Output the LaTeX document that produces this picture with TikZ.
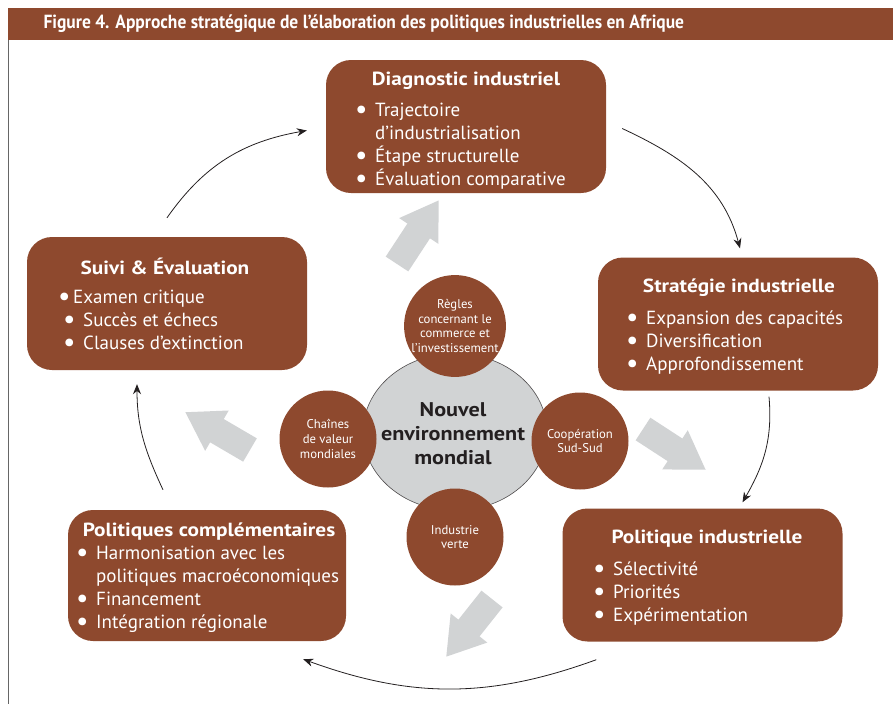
\documentclass[tikz,border=0pt]{standalone}
\usepackage{fontspec}
\usepackage{graphicx}
\setmainfont{PT Sans}
\newfontfamily\titrefont[FakeStretch=0.92]{PT Sans}
\newfontfamily\grasfont[FakeStretch=1.12]{PT Sans}
\usetikzlibrary{positioning,shapes.geometric,arrows.meta}
\definecolor{brique}{RGB}{142,73,46}
\definecolor{grisclair}{RGB}{209,211,212}
\definecolor{grisfonce}{RGB}{35,31,32}
\newcommand{\rond}{\raisebox{-2pt}{\scalebox{1.45}{\textbullet}}}
\newcommand{\puce}{\makebox[20pt][l]{\rond}}
\newcommand{\retrait}{\hspace*{20pt}}
\newcommand{\premier}{\rule{0pt}{18pt}}
\tikzset{
  etape/.style={fill=brique, rounded corners=25pt, minimum width=280pt, minimum height=133pt},
  etapetitre/.style={text=white, font=\grasfont\fontsize{19}{22}\selectfont\bfseries},
  etapeliste/.style={text=white, align=left, anchor=north west, inner sep=0pt,
    font=\fontsize{19}{23.2}\selectfont},
  facteur/.style={circle, fill=brique, minimum size=97pt, inner sep=0pt, text=white,
    align=center, font=\fontsize{12.7}{14.6}\selectfont},
  cycle/.style={-{Stealth[length=10pt,width=8pt]}, line width=0.8pt, grisfonce},
  poussee/.style={line width=27pt, grisclair, -{Triangle[length=37pt,width=44pt]}},
}
\begin{document}
\begin{tikzpicture}[x=1pt,y=1pt]
        \useasboundingbox (0,0) rectangle (893,-704);
        % bandeau du titre
        \fill[brique] (8,-8) rectangle (893,-40);
        \node[anchor=west, text=white, font=\titrefont\fontsize{19}{22}\selectfont\bfseries] (titre) at (40,-24)
                {Figure 4. Approche stratégique de l’élaboration des politiques industrielles en Afrique};
        \draw[black!60, line width=0.8pt] (8,-40) -- (8,-704);

        % les cinq etapes
        \node[etape] (diag) at (466,-126.5) {};
        \node[etapetitre] (diagT) at (466,-81) {Diagnostic industriel};
        \node[etapeliste] (diagL) at (355,-98) {\premier\puce Trajectoire\\\retrait d’industrialisation\\\puce Étape structurelle\\\puce Évaluation comparative};

        \node[etape] (strat) at (738,-324) {};
        \node[etapetitre] (stratT) at (739,-288) {Stratégie industrielle};
        \node[etapeliste] (stratL) at (626,-306) {\premier\puce Expansion des capacités\\\puce Diversification\\\puce Approfondissement};

        \node[etape] (polind) at (702.5,-575) {};
        \node[etapetitre] (polindT) at (707,-539) {Politique industrielle};
        \node[etapeliste] (polindL) at (593,-557) {\premier\puce Sélectivité\\\puce Priorités\\\puce Expérimentation};

        \node[etape, minimum width=278pt, minimum height=131pt] (compl) at (207,-575.5) {};
        \node[etapetitre] (complT) at (209,-532) {Politiques complémentaires};
        \node[etapeliste] (complL) at (76,-541) {\premier\puce Harmonisation avec les\\\retrait politiques macroéconomiques\\\puce Financement\\\puce Intégration régionale};

        \node[etape] (suivi) at (167,-303.5) {};
        \node[etapetitre] (suiviT) at (165,-266) {Suivi \& Évaluation};
        \node[etapeliste] (suiviL) at (63,-285) {\premier\hspace*{-5pt}\makebox[15pt][l]{\rond}Examen critique\\\puce Succès et échecs\\\puce Clauses d’extinction};

        % environnement mondial au centre
        \node[ellipse, draw=grisfonce!80, line width=0.6pt, fill=grisclair, minimum width=184pt,
                minimum height=157pt] (monde) at (455,-432) {};
        \node[align=center, text=grisfonce, font=\grasfont\fontsize{19.8}{24}\selectfont\bfseries]
                (mondeT) at (453,-434) {Nouvel\\environnement\\mondial};
        \node[facteur] (regles) at (455,-326) {Règles\\concernant le\\commerce et\\l’investissement};
        \node[facteur] (chaines) at (328,-439) {Chaînes\\de valeur\\mondiales};
        \node[facteur] (coop) at (580,-441) {Coopération\\Sud-Sud};
        \node[facteur] (indus) at (455,-537) {Industrie\\verte};

        % fleches grises
        \coordinate (p1) at (397,-264); \coordinate (q1) at (439,-200);
        \coordinate (p2) at (643,-429); \coordinate (q2) at (706,-470);
        \coordinate (p3) at (492,-599); \coordinate (q3) at (446,-657);
        \coordinate (p4) at (250,-450); \coordinate (q4) at (185,-412);
        \foreach \i in {1,2,3,4} {
        \draw[poussee] (p\i) -- (q\i);
        }

        % le cycle
        \draw[cycle] ([yshift=19pt]suivi.north) to[out=55,in=190] ([xshift=-19pt,yshift=-4pt]diag.west);
        \draw[cycle] ([xshift=16pt,yshift=-2pt]diag.east) to[out=-25,in=105] ([xshift=2pt,yshift=9pt]strat.north);
        \draw[cycle] ([xshift=31pt,yshift=-6pt]strat.south) to[out=-85,in=60] ([xshift=40pt,yshift=6pt]polind.north);
        \draw[cycle] ([xshift=34pt,yshift=-18pt]polind.south west) to[out=-160,in=-20] ([xshift=-43pt,yshift=-18pt]compl.south east);
        \draw[cycle] ([xshift=-44pt,yshift=20pt]compl.north) to[out=115,in=-90] ([xshift=-30pt,yshift=-14pt]suivi.south);
\end{tikzpicture}
\end{document}
